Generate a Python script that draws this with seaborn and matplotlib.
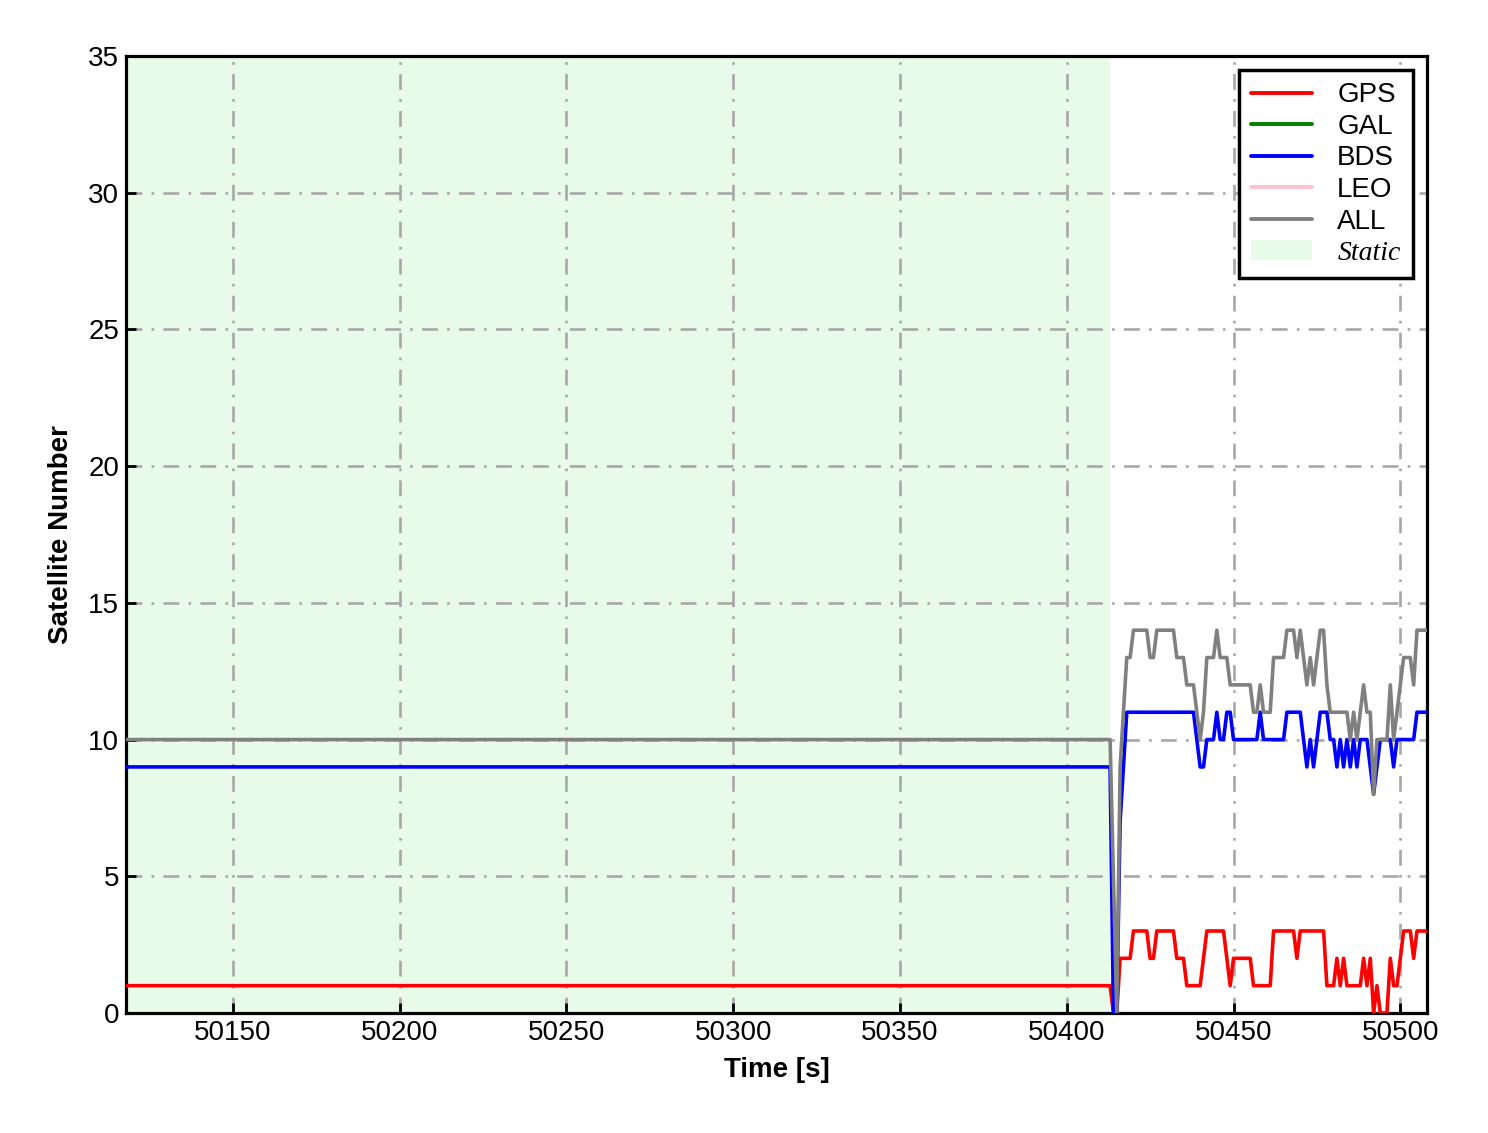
import matplotlib
matplotlib.use("Agg")
import numpy as np
import pandas as pd
import matplotlib.pyplot as plt
import seaborn as sns
from matplotlib.lines import Line2D
from matplotlib.patches import Patch

# ---- data (satellite counts, 1 s epochs; static phase is flat) ----
time = [50118] + list(range(50413, 50509))

gps = [1,
       1, 0, 0, 2, 2, 2, 2,
       3, 3, 3, 3, 3, 2, 2, 3, 3, 3,
       3, 3, 3, 2, 2, 2, 1, 1, 1, 1,
       1, 2, 3, 3, 3, 3, 3, 3, 2, 1,
       2, 2, 2, 2, 2, 2, 1, 1, 1, 1,
       1, 1, 3, 3, 3, 3, 3, 3, 3, 2,
       3, 3, 3, 3, 3, 3, 3, 3, 1, 1,
       1, 2, 1, 2, 1, 1, 1, 1, 1, 2,
       1, 2, 0, 1, 0, 0, 0, 2, 1, 1,
       2, 3, 3, 3, 2, 3, 3, 3, 3]

bds = [9,
       9, 0, 0, 7, 9, 11, 11,
       11, 11, 11, 11, 11, 11, 11, 11, 11, 11,
       11, 11, 11, 11, 11, 11, 11, 11, 11, 10,
       9, 9, 10, 10, 10, 11, 10, 10, 11, 11,
       10, 10, 10, 10, 10, 10, 10, 10, 11, 10,
       10, 10, 10, 10, 10, 10, 11, 11, 11, 11,
       11, 10, 9, 10, 9, 10, 11, 11, 11, 10,
       10, 9, 10, 9, 10, 9, 10, 9, 10, 10,
       10, 9, 8, 9, 10, 10, 10, 10, 9, 10,
       10, 10, 10, 10, 10, 11, 11, 11, 11]

all_sys = [10,
           10, 5, 0, 9, 11, 13, 13,
           14, 14, 14, 14, 14, 13, 13, 14, 14, 14,
           14, 14, 14, 13, 13, 13, 12, 12, 12, 11,
           10, 11, 13, 13, 13, 14, 13, 13, 13, 12,
           12, 12, 12, 12, 12, 12, 11, 11, 12, 11,
           11, 11, 13, 13, 13, 13, 14, 14, 14, 13,
           14, 13, 12, 13, 12, 13, 14, 14, 12, 11,
           11, 11, 11, 11, 11, 10, 11, 10, 11, 12,
           11, 11, 8, 10, 10, 10, 10, 12, 10, 11,
           12, 13, 13, 13, 12, 14, 14, 14, 14]

systems = ['GPS', 'GAL', 'BDS', 'LEO', 'ALL']
colors = {'GPS': 'red', 'GAL': 'green', 'BDS': 'blue', 'LEO': 'pink', 'ALL': 'gray'}
static_start, static_end = 50118, 50413
xticks = [50150, 50200, 50250, 50300, 50350, 50400, 50450, 50500]
yticks = [0, 5, 10, 15, 20, 25, 30, 35]

df = pd.DataFrame({'time': time, 'GPS': gps, 'BDS': bds, 'ALL': all_sys})
df = df.melt(id_vars='time', var_name='system', value_name='num')

# ---- style ----
sns.set_style('ticks')
plt.rcParams['font.family'] = ['Liberation Sans', 'DejaVu Sans']
for k in ['text.color', 'axes.labelcolor', 'xtick.color', 'ytick.color']:
    plt.rcParams[k] = 'black'

fig, ax = plt.subplots(figsize=(14.88, 11.33), dpi=100)
fig.subplots_adjust(left=0.0847, right=0.959, bottom=0.1059, top=0.9506)

ax.axvspan(static_start, static_end, color='lightgreen', alpha=0.2, lw=0, zorder=0)

sns.lineplot(data=df, x='time', y='num', hue='system', hue_order=['GPS', 'BDS', 'ALL'],
             palette=colors, linewidth=2.6, estimator=None, legend=False, ax=ax, zorder=3)

ax.set_xlim(50118, 50508)
ax.set_ylim(0, 35)
ax.set_xticks(xticks)
ax.set_yticks(yticks)
ax.grid(True, color='#a8a8a8', linestyle=(0, (6, 3.5, 1, 3.5)), linewidth=1.9, zorder=1)

for sp in ax.spines.values():
    sp.set_visible(True)
    sp.set_linewidth(2.3)
    sp.set_color('black')

ax.tick_params(axis='both', direction='in', length=7, width=2, labelsize=20, pad=5)
ax.set_xlabel('Time [s]', fontsize=20, fontweight='bold', labelpad=8)
ax.set_ylabel('Satellite Number', fontsize=20, fontweight='bold', labelpad=10)

handles = [Line2D([], [], color=colors[s], linewidth=2.8, label=s) for s in systems]
handles.append(Patch(facecolor='lightgreen', alpha=0.2, edgecolor='none', label='Static'))
leg = ax.legend(handles=handles, loc='upper right', fontsize=20, frameon=True, fancybox=False,
                framealpha=1, edgecolor='black', handlelength=2.2, handletextpad=0.9,
                labelspacing=0.2, borderpad=0.45, borderaxespad=0.5)
leg.get_frame().set_linewidth(2.5)
st = leg.get_texts()[-1]
st.set_fontfamily('Liberation Serif')
st.set_fontstyle('italic')

fig.savefig('out.png', dpi=100)
